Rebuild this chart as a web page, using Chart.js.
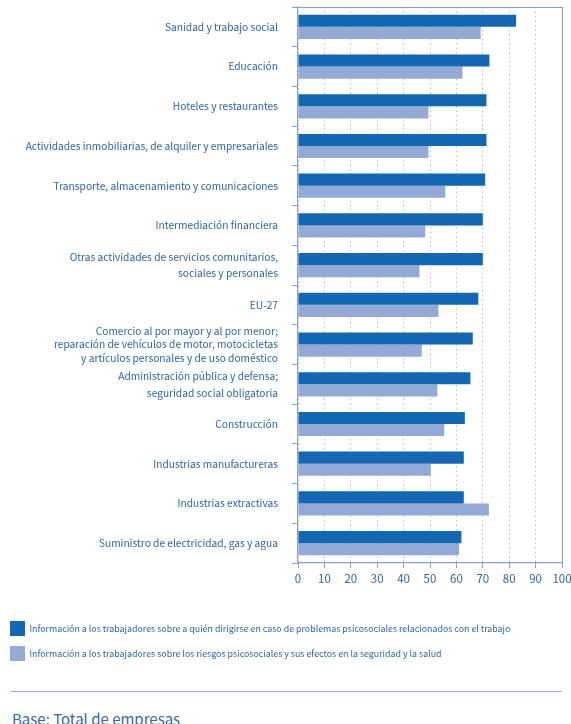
<!DOCTYPE html>
<html lang="es">
<head>
<meta charset="utf-8">
<title>Información a los trabajadores por sector</title>
<script src="https://cdn.jsdelivr.net/npm/chart.js@4/dist/chart.umd.min.js"></script>
<style>
  html, body { margin: 0; padding: 0; background: #fff; overflow: hidden; }
  body { width: 571px; height: 724px; position: relative; }
  #wrap { position: absolute; left: 0; top: 0; width: 571px; height: 671px; }
  #rule { position: absolute; left: 11px; top: 691px; width: 551px; height: 0; border-top: 1px solid #8fa6d6; }
  #base { position: absolute; left: 12px; top: 710px; font: 15px "Noto Sans CJK JP", sans-serif; line-height: 18px; color: #3a67a8; white-space: nowrap; }
</style>
</head>
<body>
<div id="wrap"><canvas id="chart"></canvas></div>
<div id="rule"></div>
<div id="base">Base: Total de empresas</div>

<script>
  // sectores (de arriba abajo) y porcentajes de empresas
  const sectores = [
    'Sanidad y trabajo social',
    'Educación',
    'Hoteles y restaurantes',
    'Actividades inmobiliarias, de alquiler y empresariales',
    'Transporte, almacenamiento y comunicaciones',
    'Intermediación financiera',
    ['Otras actividades de servicios comunitarios,', 'sociales y personales'],
    'EU-27',
    ['Comercio al por mayor y al por menor;', 'reparación de vehículos de motor, motocicletas', 'y artículos personales y de uso doméstico'],
    ['Administración pública y defensa;', 'seguridad social obligatoria'],
    'Construcción',
    'Industrias manufactureras',
    'Industrias extractivas',
    'Suministro de electricidad, gas y agua'
  ];

  const quienDirigirse = [82.6, 72.5, 71.4, 71.4, 70.9, 70.0, 70.0, 68.3, 66.2, 65.3, 63.2, 62.8, 62.8, 61.9];
  const riesgosEfectos = [69.2, 62.3, 49.4, 49.4, 55.8, 48.2, 46.0, 53.2, 46.9, 52.8, 55.4, 50.3, 72.3, 61.0];

  const ejeX = { min: 0, max: 100, paso: 10 };

  const FONT = '"Noto Sans CJK JP", "DejaVu Sans Condensed", sans-serif';
  const AZUL_TXT = '#2f64ad';
  const AZUL_EJE = '#85a2d6';

  // marco superior y derecho del área de trazado
  const marco = {
    id: 'marco',
    afterDraw(chart) {
      const a = chart.chartArea, c = chart.ctx;
      c.save();
      c.strokeStyle = AZUL_EJE;
      c.lineWidth = 1.2;
      c.beginPath();
      c.moveTo(a.left, a.top + 0.5);
      c.lineTo(a.right + 0.5, a.top + 0.5);
      c.lineTo(a.right + 0.5, a.bottom);
      c.stroke();
      c.restore();
    }
  };

  new Chart(document.getElementById('chart'), {
    type: 'bar',
    data: {
      labels: sectores,
      datasets: [
        {
          label: 'Información a los trabajadores sobre a quién dirigirse en caso de problemas psicosociales relacionados con el trabajo',
          data: quienDirigirse,
          backgroundColor: '#1467b3',
          borderWidth: 0,
          categoryPercentage: 0.61,
          barPercentage: 1.0
        },
        {
          label: 'Información a los trabajadores sobre los riesgos psicosociales y sus efectos en la seguridad y la salud',
          data: riesgosEfectos,
          backgroundColor: '#93a9d6',
          borderWidth: 0,
          categoryPercentage: 0.61,
          barPercentage: 1.0
        }
      ]
    },
    options: {
      indexAxis: 'y',
      responsive: true,
      maintainAspectRatio: false,
      animation: false,
      layout: { padding: { top: 7, right: 0, left: 0, bottom: 0 } },
      plugins: {
        tooltip: { enabled: false },
        legend: {
          position: 'bottom',
          align: 'start',
          labels: {
            boxWidth: 15,
            boxHeight: 15,
            padding: 10,
            color: AZUL_TXT,
            font: { family: FONT, size: 8.85 }
          }
        }
      },
      scales: {
        x: {
          min: ejeX.min,
          max: ejeX.max,
          ticks: {
            stepSize: ejeX.paso, autoSkip: false, maxRotation: 0,
            color: AZUL_TXT, padding: 4, font: { family: FONT, size: 11.5 }
          },
          grid: {
            color: '#adbfe2',
            lineWidth: 1,
            tickLength: 5,
            tickColor: AZUL_EJE,
            tickBorderDash: []
          },
          border: { display: true, color: AZUL_EJE, width: 1.2, dash: [1.5, 3] },
          afterFit(scale) {
            scale.height = 48;
            // el "100" llega casi al borde
            scale.paddingRight = 9;
          }
        },
        y: {
          ticks: {
            autoSkip: false,
            color: AZUL_TXT, padding: 14,
            // la etiqueta de tres líneas va más apretada
            font: (ctx) => ({
              family: FONT,
              size: 10.2,
              lineHeight: Array.isArray(sectores[ctx.index]) && sectores[ctx.index].length > 2 ? 1.3 : 1.65
            })
          },
          grid: {
            offset: true,
            drawOnChartArea: false,
            drawTicks: true,
            tickLength: 6,
            color: AZUL_EJE
          },
          border: { display: true, color: AZUL_EJE, width: 1.2 },
          afterFit(scale) {
            scale.width = 298;
            scale.paddingTop = 0;
            scale.paddingBottom = 0;
          }
        }
      }
    },
    plugins: [marco]
  });
</script>
</body>
</html>
